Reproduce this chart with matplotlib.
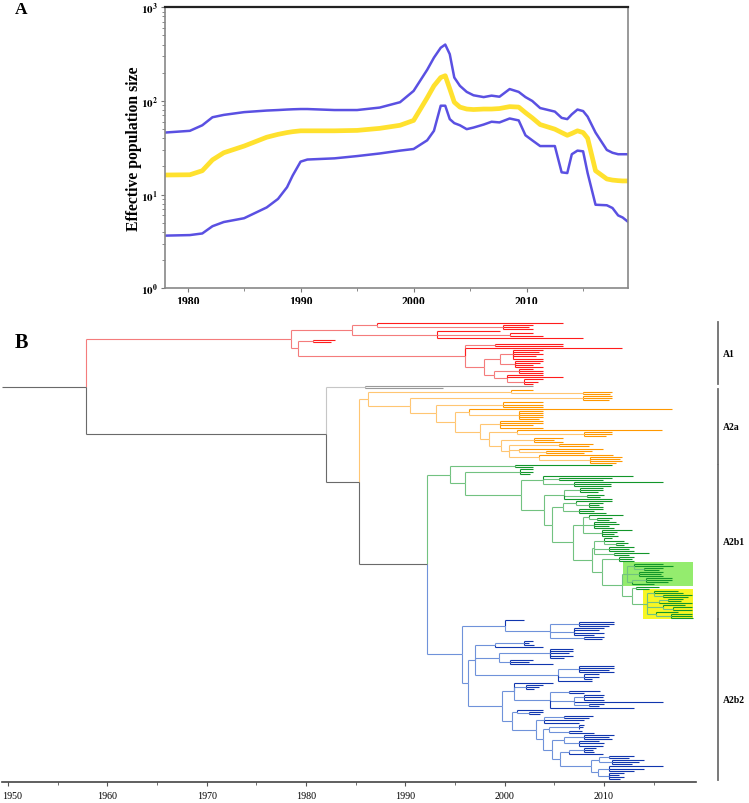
import matplotlib
matplotlib.use("Agg")
import matplotlib.pyplot as plt
import matplotlib.transforms as mtransforms
from matplotlib.collections import LineCollection
from matplotlib.patches import Rectangle

plt.rcParams['font.family'] = ['Liberation Serif', 'DejaVu Serif']
plt.rcParams['mathtext.fontset'] = 'stix'

# --- A: skyline (effective population size) ---
sky_years = [1978.0, 1980.2, 1981.3, 1982.2, 1983.2, 1985.0, 1987.0, 1988.0, 1988.8, 1989.3,
             1990.0, 1990.6, 1993.0, 1995.0, 1997.0, 1998.8, 2000.0, 2001.2, 2001.8, 2002.4,
             2002.8, 2003.2, 2003.6, 2004.1, 2004.7, 2005.3, 2006.2, 2006.9, 2007.6, 2008.5,
             2009.3, 2009.9, 2010.5, 2011.2, 2012.5, 2013.1, 2013.6, 2014.0, 2014.5, 2015.0,
             2015.4, 2016.1, 2017.1, 2017.6, 2018.1, 2018.5, 2019.0]
sky_upper = [46, 48, 55, 67, 71, 76, 79, 80, 81, 81.5,
             82, 82, 80, 80, 85, 97, 128, 215, 290, 370,
             400, 316, 178, 145, 125, 115, 110, 114, 111, 134,
             125, 110, 100, 84, 77, 66, 64, 72, 81, 78,
             68, 46, 30, 28, 27, 27, 27]
sky_median = [16.2, 16.3, 18, 23.5, 28, 33, 41, 44, 46, 47,
              48, 48, 48, 48.5, 51, 55, 62, 108, 145, 178,
              186, 135, 97, 86, 82, 81, 82, 82, 83, 87,
              86, 75, 66, 56, 50, 46, 43, 45, 48, 46,
              40, 18, 14.7, 14.3, 14.1, 14, 14]
sky_lower = [3.65, 3.7, 3.85, 4.6, 5.1, 5.6, 7.3, 9, 12, 16,
             22.5, 23.7, 24.4, 25.8, 27.5, 29.5, 30.7, 38, 48, 89,
             89, 64, 58, 55, 50, 52, 56, 60, 59, 65,
             62, 43, 38, 33, 33, 17.3, 17, 27, 29.5, 29,
             17, 7.8, 7.7, 7.2, 6, 5.7, 5.1]

# --- B: time-scaled tree; node = [date, children...], tip = sampling date ---
clade_A1 = [1978.45,
            [1984.6,
             [1987.1, 2005.9, [1999.8, 2002.9, 2002.5, 2002.9]],
             [1993.2, 1999.5, [2000.5, 2002.9, 2003.9], 2007.9]],
            [1979.2,
             [1980.7, 1982.9, 1982.5],
             [1996.0,
              [1999.0, 2005.9, 2005.9],
              2011.85,
              [1997.9,
               [1999.5,
                [2000.8, 2003.9, 2003.5, 2003.9, 2003.2, 2003.9],
                [2001.0, 2003.9, 2003.6, 2002.9, 2003.9]],
               [1998.9,
                [2001.5, 2002.9, 2003.9, 2003.9],
                [2000.2, 2003.9, 2005.9, [2002.0, 2003.9, 2003.4, 2002.9]]]]]]]

clade_grey = [1985.9, 2002.9, 1993.8]

clade_A2a = [1986.2,
             [2000.6, 2002.9, [2007.9, 2010.8, 2010.6]],
             [1990.5,
              [2007.9, 2010.8, 2010.8, 2010.5],
              [1993.1,
               [1999.8, 2003.9, 2003.9, 2003.9],
               [1995.0,
                [1996.4, 2016.9, [2001.5, 2003.9, 2003.9, 2003.9, 2003.9, 2003.5]],
                [1997.5,
                 [1999.5, 2003.9, 2003.9, 2002.9, 2003.9],
                 [1998.4,
                  [2001.2, 2015.9, [2008.0, 2010.8, 2010.8, 2010.2]],
                  [1999.6,
                   [2003.0, 2005.9, 2005.0, 2005.9],
                   [2000.4,
                    [2005.5, 2008.9, 2008.5],
                    [2001.5, 2009.9, [2004.2, 2008.8, 2008.0]],
                    [2003.5, 2010.9, [2008.6, 2011.85, 2011.6, 2011.85, 2011.2]]]]]]]]]]

green_subclade = [2012.3,
                  [2013.0, 2016.0, 2017.0, [2014.0, 2016.0, 2015.5]],
                  [2013.5, 2016.0, 2015.8, 2016.0],
                  [2012.8, [2014.2, 2016.9, 2016.9, 2016.5], 2015.0]]

yellow_subclade = [2014.3,
                   [2015.0, 2017.5, 2018.0, [2016.0, 2018.9, 2018.5]],
                   [2015.5, [2016.5, 2018.0, 2017.8], 2018.9],
                   [2016.0, 2018.2, [2017.0, 2018.9, 2018.9]],
                   [2015.2, 2017.5, [2016.8, 2018.9, 2018.9, 2019.0]]]

clade_A2b1 = [1994.5,
              [2001.05, 2010.85, 2002.9],
              [1996.0,
               [2001.55, 2002.9, 2002.9, 2002.6],
               [2001.7,
                [2003.9, 2012.9, [2005.5, 2010.8, 2009.9], [2007.0, 2016.0, 2010.7, 2010.7]],
                [2004.0,
                 [2006.0, [2007.6, 2009.9, 2009.9, 2009.4], [2008.3, 2010.0, 2009.6], 2010.8],
                 [2004.75,
                  [2005.9, [2007.2, 2010.8, [2008.5, 2009.9, 2009.5, 2009.9]],
                   [2007.5, 2009.9, 2009.0, 2010.2]],
                  [2006.9,
                   [2007.9, [2008.5, 2011.9, [2009.3, 2010.8, 2010.5]],
                    [2009.0, 2011.2, 2011.5, 2010.5, 2011.0],
                    [2009.8, 2012.8, 2011.3, 2011.0, 2011.4]],
                   [2008.8,
                    [2009.0, [2010.0, 2010.8, 2012.0, [2011.2, 2012.4, 2012.0]],
                     [2010.5, 2013.0, 2012.5, 2013.0],
                     [2011.0, 2014.5, 2012.5]],
                    [2009.8,
                     [2011.5, 2013.0, 2012.8, 2013.0],
                     [2011.8,
                      ('green', green_subclade),
                      [2012.8,
                       [2013.2, 2015.5, 2014.5],
                       ('yellow', yellow_subclade)]]]]]]]]]]

clade_A2b2 = [1995.7,
              [2000.05, 2001.95,
               [2004.6, [2007.5, 2011.0, 2011.0, 2010.5], [2007.0, 2010.0, 2009.5, 2010.0, 2009.0],
                [2008.0, 2010.0, 2009.8]]],
              [1996.35,
               [1997.0,
                [1999.0, [2002.0, 2002.9, 2002.5, 2003.0], 2003.9],
                [1999.4, [2004.6, 2006.9, 2006.9, 2006.5, 2006.9, 2006.0], [2000.5, 2002.9, 2002.5, 2004.9]],
                [2005.4, [2007.5, 2011.0, 2011.0, 2010.5, 2011.0], [2008.0, 2009.5, 2009.5, 2008.8], 2008.8]],
               [1999.7,
                [2000.9, 2004.9, [2002.2, 2003.9, 2003.5, 2003.0],
                 [2004.6, [2006.5, 2009.6, 2008.0],
                  [2007.0, [2008.0, 2010.0, 2009.9, 2010.0], 2016.0, [2008.5, 2010.0, 2009.5]],
                  2013.0]],
                [2000.7,
                 [2001.2, 2003.9, [2002.5, 2003.9, 2003.6]],
                 [2003.2,
                  [2004.0, [2006.0, 2008.9, 2008.5], 2008.0, 2007.5],
                  [2003.9,
                   [2004.5, [2007.5, 2008.0, 2007.9, 2007.5], [2006.5, 2007.8, 2009.0]],
                   [2004.8,
                    [2006.0, [2008.0, 2011.0, 2010.5, 2010.8], [2007.5, 2009.5, 2010.0, 2009.9]],
                    [2005.6,
                     [2006.5, [2008.0, 2009.2, 2008.9, 2009.0], 2009.9],
                     [2008.7,
                      [2009.5, [2010.5, 2013.0, 2012.5], [2010.8, 2014.0, 2013.5, 2012.8]],
                      [2009.4, [2010.5, 2016.0, 2014.0, 2013.0],
                       [2010.5, 2012.0, 2011.5, 2012.0, 2011.6]]]]]]]]]]]

root_line_start = 1949.4
tree = [1957.8, ('A1', clade_A1),
        [1982.0, ('grey', clade_grey),
         [1985.3, ('A2a', clade_A2a),
          [1992.15, ('A2b1', clade_A2b1), ('A2b2', clade_A2b2)]]]]

clade_labels = ['A1', 'A2a', 'A2b1', 'A2b2']

# (internal branch colour, tip branch colour)
clade_colors = {
    'A1': ('#f47c7c', '#ff1c1c'),
    'grey': ('#c6c6c6', '#9a9a9a'),
    'A2a': ('#ffc672', '#ff9800'),
    'A2b1': ('#72c280', '#12962a'),
    'A2b2': ('#6f92da', '#1036ae'),
}
backbone = ('#6a6a6a', '#6a6a6a')
highlight_colors = {'green': '#94ec6e', 'yellow': '#f6f624'}

segs, seg_cols = [], []
counter = [0]
spans = {}


def walk(node, parent_x, cols, tags):
    name = None
    if isinstance(node, tuple):
        name, node = node
        if name in clade_colors:
            cols = clade_colors[name]
        tags = tags + [name]
        spans[name] = {'first': None, 'last': None, 'max': -1e9, 'root': None}
    if isinstance(node, list):
        x = node[0]
        kids = [walk(c, x, cols, tags) for c in node[1:]]
        y = (kids[0][0] + kids[-1][0]) / 2
        for ky, kc in kids:
            segs.append([(x, y), (x, ky)])
            seg_cols.append(kc)
        col = cols[0]
    else:
        x = node
        y = counter[0]
        counter[0] += 1
        col = cols[1]
        for t in tags:
            sp = spans[t]
            if sp['first'] is None:
                sp['first'] = y
            sp['last'] = y
            sp['max'] = max(sp['max'], x)
    segs.append([(parent_x, y), (x, y)])
    seg_cols.append(col)
    if name is not None:
        spans[name]['root'] = x
    return y, col


walk(tree, root_line_start, backbone, [])
n_tips = counter[0]

# --- figure ---
W, H = 749, 804
fig = plt.figure(figsize=(W / 100, H / 100), dpi=100)


def frac(l, t, r, b):
    return [l / W, 1 - b / H, (r - l) / W, (b - t) / H]


ax = fig.add_axes(frac(165, 8.3, 628.3, 289.3))
ax.plot(sky_years, sky_upper, color='#5a50e2', lw=1.8)
ax.plot(sky_years, sky_lower, color='#5a50e2', lw=1.8)
ax.plot(sky_years, sky_median, color='#ffe12e', lw=3.4)
ax.set_yscale('log')
ax.set_ylim(1, 1000)
ax.set_xlim(1978.0, 2019.0)
ax.set_yticks([1, 10, 100, 1000])
ax.set_yticklabels([r'$\mathbf{10^{%d}}$' % k for k in range(4)], fontsize=8)
ax.set_xticks([1980, 1990, 2000, 2010])
ax.set_xticks([1985, 1995, 2005, 2015], minor=True)
ax.set_xticklabels(['1980', '1990', '2000', '2010'], fontsize=8.5, fontweight='bold')
ax.tick_params(axis='both', which='both', direction='out', color='#777777')
ax.tick_params(axis='both', which='major', length=3, pad=2)
ax.tick_params(axis='both', which='minor', length=2)
ax.set_ylabel('Effective population size', fontsize=11.3, fontweight='bold')
ax.yaxis.set_label_coords(-0.05, 0.5)
for side in ['left', 'right', 'bottom']:
    ax.spines[side].set_color('#888888')
    ax.spines[side].set_linewidth(1.2)
ax.spines['top'].set_color('#222222')
ax.spines['top'].set_linewidth(1.6)

# tree panel
px_per_year = 9.93
x0 = 1950 - 8.1 / px_per_year
tax = fig.add_axes(frac(0, 305, W, 783.3))
tax.set_xlim(x0, x0 + W / px_per_year)
tip_top, tip_bot = 324.0, 780.0
step = (tip_bot - tip_top) / (n_tips - 1)
tax.set_ylim((783.3 - tip_top) / step, (305 - tip_top) / step)

lc = LineCollection(segs, colors=seg_cols, linewidths=0.8, zorder=3)
tax.add_collection(lc)

box_right = max(spans['green']['max'], spans['yellow']['max'])
for hl in ['green', 'yellow']:
    sp = spans[hl]
    tax.add_patch(Rectangle((sp['root'] - 0.4, sp['first'] - 0.7),
                            box_right - sp['root'] + 0.4, sp['last'] - sp['first'] + 1.4,
                            facecolor=highlight_colors[hl], edgecolor='none', zorder=1))

bar_x = 1950 + (717.5 - 8.1) / px_per_year
for name in clade_labels:
    sp = spans[name]
    tax.plot([bar_x, bar_x], [sp['first'] - 0.3, sp['last'] + 0.3], color='#6e6e6e',
             lw=1.3, clip_on=False)
    tax.text(bar_x + 0.55, (sp['first'] + sp['last']) / 2, name, fontsize=7,
             fontweight='bold', ha='left', va='center', clip_on=False)

for side in ['top', 'left', 'right']:
    tax.spines[side].set_visible(False)
tax.spines['bottom'].set_bounds(1949.4, 2019.3)
tax.spines['bottom'].set_color('#444444')
tax.spines['bottom'].set_linewidth(1.2)
tax.set_yticks([])
tax.set_xticks(list(range(1950, 2011, 10)))
tax.set_xticks(list(range(1955, 2016, 10)), minor=True)
tax.tick_params(axis='x', which='both', direction='out', color='#555555', labelsize=7.2, pad=3)
tax.tick_params(axis='x', which='major', length=3)
tax.tick_params(axis='x', which='minor', length=2)
first_label = tax.get_xticklabels()[0]
first_label.set_ha('left')
first_label.set_transform(first_label.get_transform() +
                          mtransforms.ScaledTranslation(-6.5 / 100, 0, fig.dpi_scale_trans))

fig.text(21.5 / W, 1 - 9.5 / H, 'A', fontsize=12.5, fontweight='bold', ha='center', va='center')
fig.text(21 / W, 1 - 343 / H, 'B', fontsize=14.5, fontweight='bold', ha='center', va='center')

fig.savefig('out.png', dpi=100)
